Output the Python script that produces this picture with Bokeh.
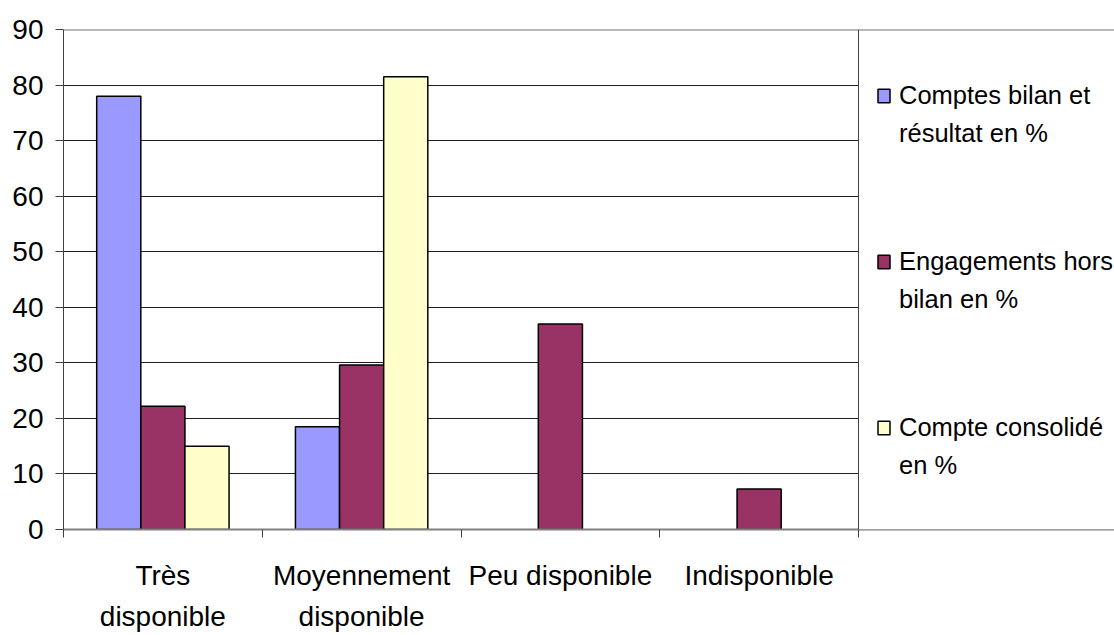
from bokeh.plotting import figure
from bokeh.models import Range1d, FixedTicker, Legend, LegendItem, ColumnDataSource, BoxAnnotation, Span
from bokeh.embed import file_html
from bokeh.resources import INLINE

categories = ["Très\ndisponible", "Moyennement\ndisponible", "Peu disponible", "Indisponible"]
series_line1 = ["Comptes bilan et", "Engagements hors", "Compte consolidé"]
series_line2 = ["résultat en %", "bilan en %", "en %"]
comptes = [78, 18.5, 0, 0]
engagements = [22.2, 29.6, 37, 7.3]
consolide = [15, 81.5, 0, 0]
colors = ["#9999FF", "#993366", "#FFFFCC"]
y_ticks = [0, 10, 20, 30, 40, 50, 60, 70, 80, 90]

FONT = "Liberation Sans"
W, H = 1114, 635
LEFT, TOP, BOTTOM = 63, 29, 106
PLOT_RIGHT = 858  # where the category axis ends; legend box beyond

n = len(categories)
x_end = n * (W - LEFT) / (PLOT_RIGHT - LEFT)

p = figure(width=W, height=H, output_backend="svg", toolbar_location=None,
           x_range=Range1d(0, x_end), y_range=Range1d(0, 90),
           min_border_left=LEFT, min_border_right=0, min_border_top=TOP, min_border_bottom=BOTTOM)
p.background_fill_color = "white"
p.border_fill_color = "white"
p.outline_line_color = None

xa = p.xaxis[0]
centers = [i + 0.5 for i in range(n)]
xa.ticker = FixedTicker(ticks=centers, minor_ticks=list(range(n + 1)))
xa.major_label_overrides = {c: lab for c, lab in zip(centers, categories)}
xa.major_tick_line_color = None
xa.major_tick_out = 0
xa.major_tick_in = 0
xa.minor_tick_line_color = "#404040"
xa.minor_tick_out = 8
xa.minor_tick_in = 0
xa.axis_line_color = "#808080"
xa.axis_line_width = 2
xa.major_label_text_font = FONT
xa.major_label_text_font_size = "28px"
xa.major_label_text_color = "black"
xa.major_label_text_line_height = 1.35
xa.major_label_standoff = 22

ya = p.yaxis[0]
ya.ticker = FixedTicker(ticks=y_ticks, minor_ticks=[])
ya.axis_line_color = "#404040"
ya.axis_line_width = 1
ya.major_tick_line_color = "#404040"
ya.major_tick_out = 8
ya.major_tick_in = 0
ya.minor_tick_line_color = None
ya.major_label_text_font = FONT
ya.major_label_text_font_size = "28px"
ya.major_label_text_color = "black"
ya.major_label_standoff = 12

p.xgrid.grid_line_color = None
p.ygrid.ticker = FixedTicker(ticks=y_ticks)
p.ygrid.grid_line_color = "#202020"
p.ygrid.grid_line_width = 1

bar_w = 0.222
offsets = [-bar_w, 0.0, bar_w]
renderers = []
for vals, off, col in zip([comptes, engagements, consolide], offsets, colors):
    xs = [i + 0.5 + off for i, v in enumerate(vals) if v > 0]
    tops = [v for v in vals if v > 0]
    src = ColumnDataSource(dict(x=xs, top=tops))
    r = p.vbar(x="x", top="top", bottom=0, width=bar_w, source=src,
               fill_color=col, line_color="black", line_width=1.5)
    renderers.append(r)

# legend box (from the end of the category axis to beyond the right edge)
box = BoxAnnotation(left=n, right=x_end * 1.2, bottom=0, top=90,
                    fill_color="white", fill_alpha=1.0, line_alpha=0.0)
p.add_layout(box)
p.add_layout(Span(location=n, dimension="height", line_color="#404040", line_width=1))
p.add_layout(Span(location=90, dimension="width", line_color="#707070", line_width=2))

dummy = p.vbar(x=[], top=[], width=0.1, fill_alpha=0, line_alpha=0)

common = dict(orientation="vertical", margin=0, padding=0, spacing=134,
              glyph_width=15, glyph_height=17, label_standoff=8, label_height=32,
              label_text_font=FONT, label_text_font_size="25.5px", label_text_color="black",
              border_line_color=None, background_fill_alpha=0.0)

leg1 = Legend(items=[LegendItem(label=t, renderers=[r]) for t, r in zip(series_line1, renderers)],
              location=(876 - LEFT, 86), **common)
leg2 = Legend(items=[LegendItem(label=t, renderers=[dummy]) for t in series_line2],
              location=(876 - LEFT, 48), **common)
p.add_layout(leg1)
p.add_layout(leg2)

open("out.html", "w").write(file_html(p, INLINE))
